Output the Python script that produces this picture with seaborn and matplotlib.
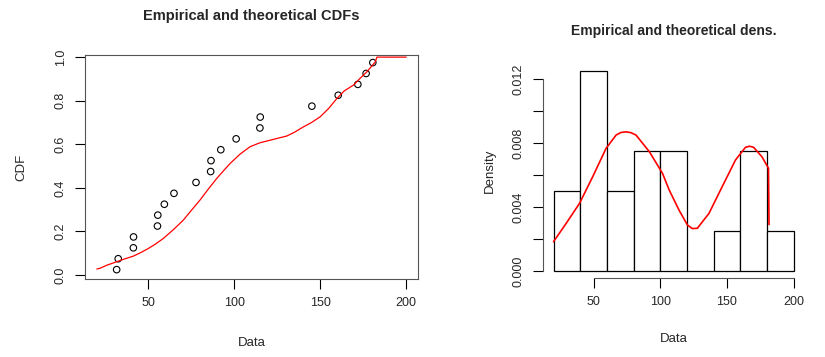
import numpy as np
import pandas as pd
import seaborn as sns
import matplotlib.pyplot as plt

data = [31.8, 32.7, 41.5, 41.6, 55.5, 55.7, 59.5, 65.1, 77.9, 86.4,
        86.6, 92.3, 101.2, 115.0, 115.2, 145.2, 160.5, 171.9, 176.7, 180.6]

# fitted (theoretical) cdf
cdf_x = [20.3, 22.1, 26.0, 31.8, 36.0, 41.5, 45.8, 50.2, 54.5, 58.9, 64.7, 70.5,
         75.3, 80.2, 85.0, 89.9, 93.8, 97.7, 103.5, 109.3, 115.0, 121.0, 125.0,
         130.6, 135.0, 140.3, 145.0, 150.0, 155.0, 159.7, 164.0, 169.4, 173.5,
         177.2, 182.0, 183.0, 200.0]
cdf_y = [0.028, 0.031, 0.045, 0.061, 0.073, 0.087, 0.103, 0.122, 0.143, 0.168, 0.208, 0.252,
         0.298, 0.344, 0.394, 0.443, 0.478, 0.512, 0.555, 0.589, 0.607, 0.619, 0.627,
         0.638, 0.655, 0.680, 0.700, 0.726, 0.765, 0.810, 0.845, 0.872, 0.905,
         0.933, 0.978, 1.0, 1.0]

# fitted density
dens_x = [20.0, 29.5, 39.5, 49.4, 59.4, 66.9, 70.5, 74.3, 78.0, 81.8, 91.8, 101.7,
          106.7, 114.1, 120.3, 124.0, 127.8, 136.5, 146.4, 156.4, 163.8, 167.0,
          170.0, 176.2, 181.1, 181.5]
dens_y = [0.00183, 0.00298, 0.00423, 0.0059, 0.00767, 0.0085, 0.00866, 0.0087, 0.00865,
          0.0085, 0.00746, 0.0061, 0.00506, 0.0038, 0.00288, 0.00265, 0.00267, 0.0036,
          0.00527, 0.00694, 0.00773, 0.0078, 0.00773, 0.00714, 0.00642, 0.0029]

bin_edges = [20, 40, 60, 80, 100, 120, 140, 160, 180, 200]

cdf_xticks = [50, 100, 150, 200]
cdf_yticks = [0.0, 0.2, 0.4, 0.6, 0.8, 1.0]
cdf_ylabels = ['0.0', '0.2', '0.4', '0.6', '0.8', '1.0']
dens_xticks = [50, 100, 150, 200]
dens_yticks = [0.000, 0.002, 0.004, 0.006, 0.008, 0.010, 0.012]
dens_ylabels = ['0.000', '', '0.004', '', '0.008', '', '0.012']

sns.set_style('white')
plt.rcParams['font.family'] = ['Liberation Sans', 'DejaVu Sans']

fig = plt.figure(figsize=(8.25, 3.57), dpi=100)
ax1 = fig.add_axes([0.103, 0.2185, 0.404, 0.627])
ax2 = fig.add_axes([0.658, 0.2213, 0.317, 0.602])

# left panel: empirical vs theoretical CDF
obs = pd.DataFrame({'x': sorted(data)})
obs['p'] = (np.arange(len(obs)) + 0.5) / len(obs)

sns.lineplot(x=cdf_x, y=cdf_y, color='red', lw=0.9, estimator=None, sort=False, ax=ax1)
sns.scatterplot(data=obs, x='x', y='p', marker='o', facecolors='none',
                edgecolor='black', s=22, linewidth=0.8, ax=ax1)

ax1.set_xlim(13.4, 207)
ax1.set_ylim(-0.018, 1.009)
ax1.set_xticks(cdf_xticks)
ax1.set_xticklabels([str(t) for t in cdf_xticks])
ax1.set_yticks(cdf_yticks)
ax1.set_yticklabels(cdf_ylabels, rotation=90, va='center')
for s in ax1.spines.values():
    s.set_color('#555555')
    s.set_linewidth(0.8)
ax1.tick_params(bottom=True, left=True, length=7, width=0.8, color='black',
                labelsize=9, pad=6)
ax1.set_xlabel('Data', fontsize=9.5, labelpad=20)
ax1.set_ylabel('CDF', fontsize=9.5, labelpad=20)
ax1.set_title('Empirical and theoretical CDFs', fontsize=10.5, fontweight='bold', pad=25)

# right panel: histogram vs theoretical density
sns.histplot(x=data, bins=bin_edges, stat='density', color='white', alpha=1,
             edgecolor='black', linewidth=0.9, ax=ax2)
sns.lineplot(x=dens_x, y=dens_y, color='red', lw=1.2, estimator=None, sort=False, ax=ax2)

ax2.set_xlim(12, 208)
ax2.set_ylim(-0.00044, 0.013)
ax2.set_xticks(dens_xticks)
ax2.set_xticklabels([str(t) for t in dens_xticks])
ax2.set_yticks(dens_yticks)
ax2.set_yticklabels(dens_ylabels, rotation=90, va='center')
ax2.spines['top'].set_visible(False)
ax2.spines['right'].set_visible(False)
ax2.spines['left'].set_bounds(0, 0.012)
ax2.spines['bottom'].set_bounds(50, 200)
for s in ['left', 'bottom']:
    ax2.spines[s].set_color('#555555')
    ax2.spines[s].set_linewidth(0.8)
ax2.tick_params(bottom=True, left=True, length=7, width=0.8, color='black',
                labelsize=9, pad=6)
ax2.set_xlabel('Data', fontsize=9.5, labelpad=18)
ax2.set_ylabel('Density', fontsize=9.5, labelpad=12)
ax2.set_title('Empirical and theoretical dens.', fontsize=10, fontweight='bold', pad=20)

fig.savefig('out.png', dpi=100)
